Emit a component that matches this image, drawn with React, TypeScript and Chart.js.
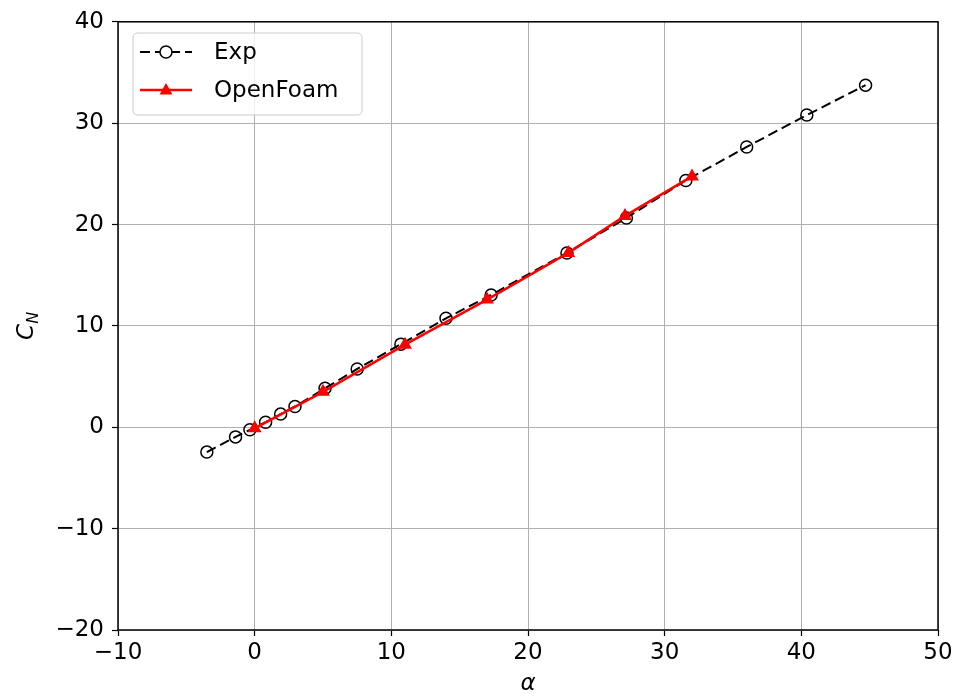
import React, { useEffect, useRef } from "react";
import { Chart, registerables } from "chart.js";

Chart.register(...registerables);

const expAlpha = [-3.5, -1.4, -0.35, 0.8, 1.9, 2.95, 5.15, 7.5, 10.7, 14.0, 17.3, 22.85, 27.2, 31.55, 36.0, 40.4, 44.7];
const expCN = [-2.45, -0.95, -0.25, 0.5, 1.3, 2.05, 3.85, 5.75, 8.2, 10.75, 13.05, 17.2, 20.65, 24.35, 27.65, 30.8, 33.75];
const ofAlpha = [0.0, 5.0, 11.0, 17.0, 22.95, 27.1, 32.0];
const ofCN = [-0.1, 3.5, 8.15, 12.6, 17.2, 20.85, 24.75];
const xTicks = [-10, 0, 10, 20, 30, 40, 50];
const yTicks = [-20, -10, 0, 10, 20, 30, 40];
const seriesNames = ["Exp", "OpenFoam"];

const FONT = "'DejaVu Sans', sans-serif";
const W = 957;
const H = 696;

const fmt = (v: number) => String(v).replace("-", "\u2212");

const framePlugin = {
  id: "frame",
  afterDraw(chart: any) {
    const { ctx, chartArea } = chart;
    const { left, right, top, bottom } = chartArea;
    ctx.save();
    // frame
    ctx.strokeStyle = "#000";
    ctx.lineWidth = 1.5;
    ctx.setLineDash([]);
    ctx.strokeRect(left, top, right - left, bottom - top);

    // legend
    const lx = 133, ly = 33, lw = 229, lh = 82, r = 5;
    ctx.beginPath();
    ctx.moveTo(lx + r, ly);
    ctx.lineTo(lx + lw - r, ly);
    ctx.quadraticCurveTo(lx + lw, ly, lx + lw, ly + r);
    ctx.lineTo(lx + lw, ly + lh - r);
    ctx.quadraticCurveTo(lx + lw, ly + lh, lx + lw - r, ly + lh);
    ctx.lineTo(lx + r, ly + lh);
    ctx.quadraticCurveTo(lx, ly + lh, lx, ly + lh - r);
    ctx.lineTo(lx, ly + r);
    ctx.quadraticCurveTo(lx, ly, lx + r, ly);
    ctx.closePath();
    ctx.fillStyle = "rgba(255,255,255,0.8)";
    ctx.fill();
    ctx.strokeStyle = "#cccccc";
    ctx.lineWidth = 1;
    ctx.stroke();

    const x0 = 140, x1 = 192, xm = 166;
    const y1 = 52, y2 = 90;
    // Exp row
    ctx.strokeStyle = "#000";
    ctx.lineWidth = 2;
    ctx.setLineDash([10, 5]);
    ctx.beginPath();
    ctx.moveTo(x0, y1);
    ctx.lineTo(x1, y1);
    ctx.stroke();
    ctx.setLineDash([]);
    ctx.beginPath();
    ctx.arc(xm, y1, 6, 0, Math.PI * 2);
    ctx.fillStyle = "#fff";
    ctx.fill();
    ctx.lineWidth = 1.5;
    ctx.stroke();
    // OpenFoam row
    ctx.strokeStyle = "red";
    ctx.lineWidth = 2.5;
    ctx.beginPath();
    ctx.moveTo(x0, y2);
    ctx.lineTo(x1, y2);
    ctx.stroke();
    ctx.fillStyle = "red";
    ctx.beginPath();
    ctx.moveTo(xm, y2 - 7);
    ctx.lineTo(xm + 6.5, y2 + 4.5);
    ctx.lineTo(xm - 6.5, y2 + 4.5);
    ctx.closePath();
    ctx.fill();

    ctx.fillStyle = "#000";
    ctx.font = `23px ${FONT}`;
    ctx.textAlign = "left";
    ctx.textBaseline = "middle";
    ctx.fillText(seriesNames[0], 214, y1 + 1);
    ctx.fillText(seriesNames[1], 214, y2 + 1);

    // x title
    ctx.font = `italic 23px ${FONT}`;
    ctx.textAlign = "center";
    ctx.textBaseline = "middle";
    ctx.fillText("\u03b1", (left + right) / 2, 684);

    // y title
    ctx.save();
    ctx.translate(33, (top + bottom) / 2);
    ctx.rotate(-Math.PI / 2);
    ctx.textAlign = "left";
    ctx.textBaseline = "alphabetic";
    ctx.font = `italic 23px ${FONT}`;
    const cw = ctx.measureText("C").width;
    ctx.font = `italic 16px ${FONT}`;
    const nw = ctx.measureText("N").width;
    const start = -(cw + nw) / 2;
    ctx.font = `italic 23px ${FONT}`;
    ctx.fillText("C", start, 0);
    ctx.font = `italic 16px ${FONT}`;
    ctx.fillText("N", start + cw, 5);
    ctx.restore();

    ctx.restore();
  },
};

export default function App() {
  const ref = useRef<HTMLCanvasElement>(null);
  useEffect(() => {
    document.body.style.margin = "0";
    const ctx = ref.current!.getContext("2d")!;
    const chart = new Chart(ctx, {
      type: "scatter",
      data: {
        datasets: [
          {
            label: seriesNames[0],
            data: expAlpha.map((x, i) => ({ x, y: expCN[i] })),
            showLine: true,
            borderColor: "#000",
            borderWidth: 2,
            borderDash: [10, 5],
            pointStyle: "circle",
            pointRadius: 6,
            pointBorderWidth: 1.5,
            pointBorderColor: "#000",
            pointBackgroundColor: "rgba(0,0,0,0)",
            order: 2,
          },
          {
            label: seriesNames[1],
            data: ofAlpha.map((x, i) => ({ x, y: ofCN[i] })),
            showLine: true,
            borderColor: "red",
            borderWidth: 2.5,
            pointStyle: "triangle",
            pointRadius: 8,
            pointBorderWidth: 0,
            pointBorderColor: "red",
            pointBackgroundColor: "red",
            order: 1,
          },
        ],
      },
      options: {
        animation: false,
        responsive: false,
        layout: { padding: { top: 19, right: 19, left: 0, bottom: 0 } },
        plugins: { legend: { display: false }, tooltip: { enabled: false } },
        scales: {
          x: {
            type: "linear",
            min: -10,
            max: 50,
            afterBuildTicks: (axis: any) => {
              axis.ticks = xTicks.map((v) => ({ value: v }));
            },
            afterFit: (axis: any) => {
              axis.height = 66;
            },
            ticks: {
              callback: (v: any) => fmt(v),
              font: { family: FONT, size: 23 },
              color: "#000",
              padding: 3,
              maxRotation: 0,
              autoSkip: false,
            },
            grid: { color: "#b0b0b0", lineWidth: 1, tickColor: "#000", tickLength: 6, tickWidth: 1.2 },
            border: { display: false },
          },
          y: {
            type: "linear",
            min: -20,
            max: 40,
            afterBuildTicks: (axis: any) => {
              axis.ticks = yTicks.map((v) => ({ value: v }));
            },
            afterFit: (axis: any) => {
              axis.width = 118;
            },
            ticks: {
              callback: (v: any) => fmt(v),
              font: { family: FONT, size: 23 },
              color: "#000",
              padding: 8,
              autoSkip: false,
            },
            grid: { color: "#b0b0b0", lineWidth: 1, tickColor: "#000", tickLength: 6, tickWidth: 1.2 },
            border: { display: false },
          },
        },
      },
      plugins: [framePlugin],
    });
    return () => chart.destroy();
  }, []);
  return (
    <div style={{ position: "absolute", left: 0, top: 0, width: W, height: H, background: "#fff" }}>
      <canvas ref={ref} width={W} height={H} style={{ width: W, height: H, display: "block" }} />
    </div>
  );
}
